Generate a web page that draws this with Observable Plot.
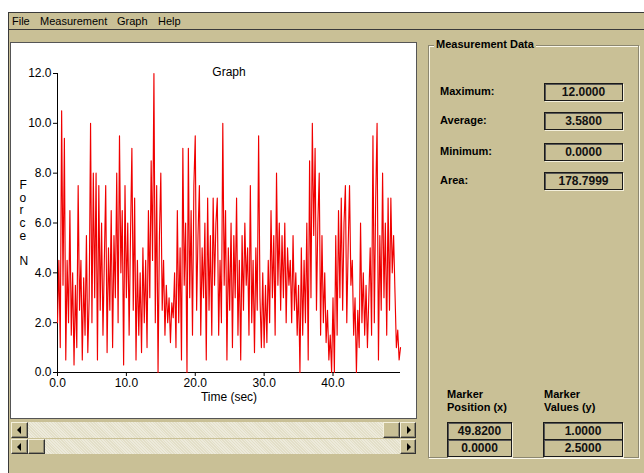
<!DOCTYPE html>
<html>
<head>
<meta charset="utf-8">
<script src="https://cdn.jsdelivr.net/npm/d3@7"></script>
<script src="https://cdn.jsdelivr.net/npm/@observablehq/plot@0.6"></script>
<style>
  html, body { margin: 0; padding: 0; background: #fff; }
  body { width: 644px; height: 473px; overflow: hidden; position: relative;
         font-family: "Liberation Sans", Arial, sans-serif; color: #000; }
  .abs { position: absolute; }
  .win { left: 8px; top: 12px; width: 636px; height: 461px; background: #c9c096;
         border-left: 1px solid #3a3a3a; border-top: 1px solid #3a3a3a; box-sizing: border-box; }
  .menu { top: 13px; font-size: 11px; line-height: 16px; }
  .hline { left: 9px; width: 635px; height: 1px; background: #3a3a3a; }
  .panel { left: 11px; top: 43px; width: 405px; height: 375px; background: #fff;
           box-shadow: 0 0 0 1px #555; }
  .group { left: 428px; top: 45px; width: 211px; height: 413px; box-sizing: border-box;
           border: 1px solid #8c8770; box-shadow: inset 1px 1px 0 #fbf8ea, 1px 1px 0 #fbf8ea; }
  .gtitle { left: 434px; top: 37px; padding: 0 2px; background: #c9c096; font-weight: bold;
            font-size: 11px; line-height: 14px; }
  .lbl { font-weight: bold; font-size: 11px; line-height: 13px; }
  .box { box-sizing: border-box; border: 1px solid #1a1a1a; box-shadow: inset 1px 1px 0 #555, 1px 1px 0 #f4f0dc;
         text-align: center; font-size: 12px; font-weight: bold; color: #111; }
  .sb { height: 16px; background: #e3dfc8;
        background-image: repeating-linear-gradient(45deg, rgba(255,255,255,0.35) 0 1px, rgba(0,0,0,0) 1px 2px); }
  .btn { box-sizing: border-box; background: #c9c096; border-top: 1px solid #f4f0dc; border-left: 1px solid #f4f0dc;
         border-right: 1px solid #333; border-bottom: 1px solid #333; box-shadow: inset -1px -1px 0 #8c8770; }
  .arrow { position: absolute; width: 0; height: 0; top: 50%; left: 50%; margin-top: -4px; }
  .arrow.l { border-top: 4px solid transparent; border-bottom: 4px solid transparent; border-right: 4px solid #000; margin-left: -3px; }
  .arrow.r { border-top: 4px solid transparent; border-bottom: 4px solid transparent; border-left: 4px solid #000; margin-left: -1px; }
  #chart { position: absolute; left: 11px; top: 43px; }
</style>
</head>
<body>
<script>
// ---- data ----
const sampleInterval = 0.2; // seconds between samples
const force = [
  2.0, 4.5, 1.0, 10.5, 3.5, 9.4, 0.5, 4.5, 2.0, 6.5, 1.5, 4.0, 0.3, 3.5, 1.0, 7.5, 2.5, 4.5, 0.5, 3.8, 1.5, 5.5, 0.8, 3.0, 10.0,
  2.0, 8.0, 3.0, 8.0, 0.5, 7.5, 2.5, 6.0, 1.5, 4.5, 7.5, 0.8, 5.0, 2.5, 6.5, 1.0, 5.5, 3.0, 8.0, 2.0, 9.5, 4.0, 6.5, 0.3, 7.5,
  3.0, 6.0, 1.5, 5.5, 9.0, 2.5, 7.0, 0.5, 4.5, 1.5, 4.0, 0.8, 5.0, 2.0, 4.5, 1.0, 6.5, 3.0, 8.5, 4.5, 12.0, 2.0, 7.5, 0.0, 5.5,
  8.0, 2.5, 4.5, 1.5, 3.5, 2.0, 3.0, 1.2, 2.8, 2.2, 4.0, 1.0, 6.5, 2.0, 5.0, 0.5, 9.0, 3.5, 6.0, 0.0, 9.0, 3.0, 6.5, 1.5, 7.5,
  9.5, 2.5, 5.5, 7.5, 1.5, 5.0, 3.0, 6.0, 0.5, 7.0, 2.5, 5.5, 1.5, 7.0, 3.5, 6.0, 7.0, 1.5, 4.5, 2.0, 10.0, 3.5, 6.5, 0.5, 5.0,
  2.5, 6.0, 1.0, 5.5, 3.0, 7.0, 1.5, 4.5, 0.5, 5.5, 2.5, 6.0, 3.5, 5.0, 1.5, 7.5, 2.0, 4.5, 0.8, 5.0, 2.5, 9.5, 3.0, 1.0, 4.0,
  1.0, 3.5, 1.2, 4.5, 2.0, 6.5, 3.0, 5.5, 1.5, 8.0, 3.5, 6.0, 2.5, 5.5, 3.0, 6.0, 2.0, 5.0, 3.5, 4.5, 2.0, 5.5, 2.5, 4.0, 1.5,
  3.5, 0.0, 5.0, 1.5, 4.5, 2.0, 6.0, 0.5, 8.5, 3.0, 10.0, 5.5, 9.0, 2.5, 6.0, 8.0, 1.5, 5.5, 2.0, 4.0, 1.2, 2.5, 0.5, 1.5, 0.0,
  3.0, 0.0, 5.5, 1.5, 6.5, 3.0, 7.0, 2.5, 6.0, 7.5, 2.0, 5.0, 7.5, 3.5, 4.5, 1.5, 3.0, 0.0, 2.5, 1.0, 6.0, 2.0, 4.0, 1.5, 3.5,
  1.0, 3.0, 5.0, 1.5, 9.5, 2.0, 7.0, 10.0, 0.5, 5.5, 2.5, 8.0, 3.0, 6.0, 1.5, 7.0, 2.5, 7.0, 4.0, 5.5, 3.2, 1.0, 1.7, 0.5, 1.0
];
const xTicks = [0, 10, 20, 30, 40];
const yTicks = [0, 2, 4, 6, 8, 10, 12];
const xDomain = [0, 49.8];
const yDomain = [0, 12];
const menuItems = ["File", "Measurement", "Graph", "Help"];
const statLabels = ["Maximum:", "Average:", "Minimum:", "Area:"];
const statValues = ["12.0000", "3.5800", "0.0000", "178.7999"];
const markerPositions = ["49.8200", "0.0000"];
const markerValues = ["1.0000", "2.5000"];

const samples = force.map((v, i) => ({t: +(i * sampleInterval).toFixed(1), f: v}));

// ---- window chrome ----
function el(cls, style, html) {
  const d = document.createElement("div");
  d.className = "abs " + cls;
  Object.assign(d.style, style);
  if (html != null) d.innerHTML = html;
  document.body.appendChild(d);
  return d;
}
el("win", {});
el("hline", {top: "29px"});
const menuX = [12, 40, 117, 158];
menuItems.forEach((m, i) => el("menu", {left: menuX[i] + "px"}, m));
el("panel", {});

// scrollbars
function scrollbar(top, h, thumbLeft) {
  el("sb", {left: "28px", top: top + "px", width: "372px", height: h + "px"});
  const b1 = el("btn", {left: "11px", top: top + "px", width: "17px", height: h + "px"});
  b1.innerHTML = '<div class="arrow l"></div>';
  el("btn", {left: thumbLeft + "px", top: top + "px", width: "17px", height: h + "px"});
  const b2 = el("btn", {left: "400px", top: top + "px", width: "16px", height: h + "px"});
  b2.innerHTML = '<div class="arrow r"></div>';
}
scrollbar(422, 16, 383);
scrollbar(439, 15, 28);

// measurement group
el("group", {});
el("gtitle", {}, "Measurement Data");
const statY = [83, 112, 143, 172];
statLabels.forEach((s, i) => {
  el("lbl", {left: "440px", top: (statY[i] + 2) + "px"}, s);
  el("box", {left: "544px", top: statY[i] + "px", width: "79px", height: "18px", lineHeight: "16px"}, statValues[i]);
});
el("lbl", {left: "447px", top: "388px"}, "Marker<br>Position (x)");
el("lbl", {left: "544px", top: "388px"}, "Marker<br>Values (y)");
markerPositions.forEach((v, i) => {
  el("box", {left: "447px", top: (422 + i * 17) + "px", width: "65px", height: "18px", lineHeight: "16px"}, v);
});
markerValues.forEach((v, i) => {
  el("box", {left: "543px", top: (422 + i * 17) + "px", width: "80px", height: "18px", lineHeight: "16px"}, v);
});

// ---- chart ----
const chart = Plot.plot({
  width: 405,
  height: 375,
  marginLeft: 46,
  marginRight: 16,
  marginTop: 30,
  marginBottom: 46,
  style: {fontFamily: "'Liberation Sans', Arial, sans-serif", fontSize: "12px", background: "transparent", color: "#000", overflow: "visible"},
  x: {domain: xDomain},
  y: {domain: yDomain},
  marks: [
    Plot.axisX({ticks: xTicks, tickFormat: d => d.toFixed(1), tickSize: 4, tickPadding: 2, label: null, stroke: "#000"}),
    Plot.axisY({ticks: yTicks, tickFormat: d => d.toFixed(1), tickSize: 4, tickPadding: 2, label: null, stroke: "#000"}),
    Plot.ruleX([0], {stroke: "#000"}),
    Plot.ruleY([0], {stroke: "#000"}),
    Plot.line(samples, {x: "t", y: "f", stroke: "#f00000", strokeWidth: 1.15}),
    Plot.text(["Graph"], {frameAnchor: "top", dy: -6, fontSize: 12}),
    Plot.text(["Time (sec)"], {frameAnchor: "bottom", dy: 28, fontSize: 12}),
    Plot.text(["F\no\nr\nc\ne\n\nN"], {frameAnchor: "left", dx: -38, fontSize: 12, lineHeight: 1.05})
  ]
});
const wrap = document.createElement("div");
wrap.id = "chart";
wrap.appendChild(chart);
document.body.appendChild(wrap);
</script>
</body>
</html>
